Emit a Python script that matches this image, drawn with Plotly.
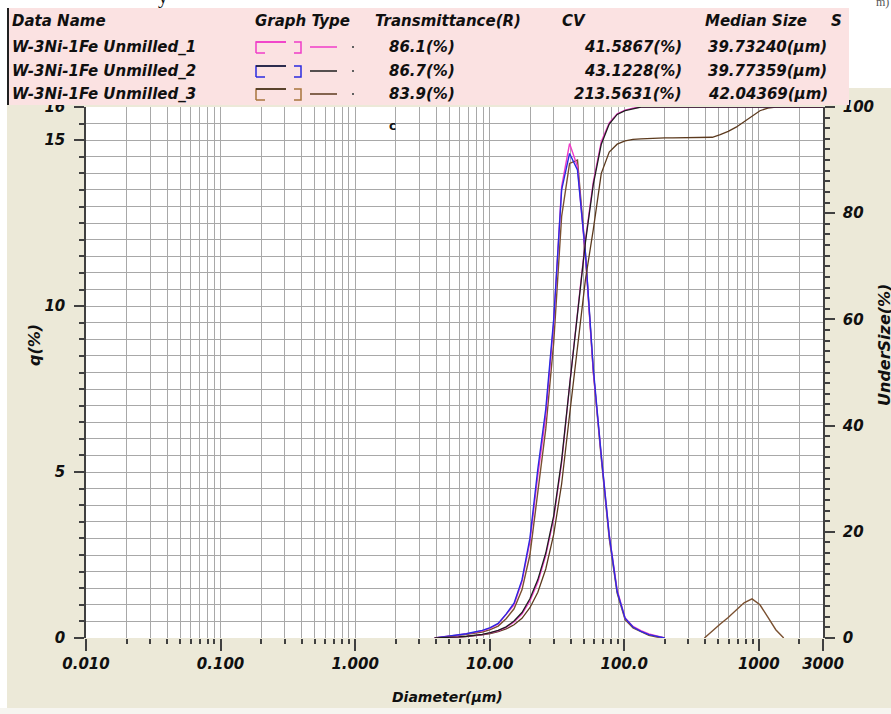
import math
import plotly.graph_objects as go

W, H = 891, 714

# Particle-size channels (um) of the laser diffraction analyser
size_um = [3.905, 4.472, 5.122, 5.867, 6.720, 7.697, 8.816, 10.097, 11.565, 13.246,
           15.172, 17.377, 19.904, 22.797, 26.111, 29.907, 34.255, 39.234, 44.938, 51.471,
           58.953, 67.523, 77.339, 88.583, 101.46, 116.21, 133.10, 152.45, 174.62, 200.00,
           229.08, 262.38, 300.53, 344.22, 394.25, 451.56, 517.20, 592.39, 678.50, 777.14,
           890.11, 1019.5, 1167.7, 1337.5, 1531.9, 1754.6, 2009.6, 2301.8, 2636.4, 3000.0]

N = None
# Frequency q (%) per channel
q_1 = [0, 0.02, 0.06, 0.09, 0.12, 0.17, 0.22, 0.30, 0.42, 0.70,
       1.0, 1.7, 2.9, 4.9, 6.7, 9.5, 13.6, 14.9, 14.2, 11.5,
       8.0, 5.5, 3.1, 1.45, 0.60, 0.35, 0.22, 0.12, 0.05, 0,
       N, N, N, N, N, N, N, N, N, N, N, N, N, N, N, N, N, N, N, N]
q_2 = [0, 0.03, 0.07, 0.10, 0.13, 0.18, 0.23, 0.31, 0.44, 0.72,
       1.05, 1.75, 3.0, 5.1, 6.9, 9.6, 13.5, 14.6, 14.1, 11.6,
       8.1, 5.5, 3.1, 1.40, 0.60, 0.33, 0.20, 0.10, 0.04, 0,
       N, N, N, N, N, N, N, N, N, N, N, N, N, N, N, N, N, N, N, N]
q_3 = [0, 0.02, 0.05, 0.08, 0.11, 0.14, 0.18, 0.25, 0.36, 0.58,
       0.88, 1.45, 2.5, 4.4, 6.3, 8.9, 12.7, 14.3, 14.4, 11.6,
       8.0, 5.4, 3.0, 1.35, 0.55, 0.30, 0.18, 0.08, 0.03, 0,
       N, N, N, N, 0, 0.22, 0.42, 0.62, 0.85, 1.06,
       1.18, 1.00, 0.63, 0.25, 0, N, N, N, N, N]

# Cumulative undersize (%)
under_1 = [0, 0.02, 0.10, 0.20, 0.30, 0.45, 0.65, 0.95, 1.35, 2.0,
           3.0, 4.5, 7.0, 10.5, 15.5, 22.5, 33.0, 47.5, 61.0, 75.0,
           86.0, 93.5, 97.0, 98.7, 99.4, 99.8, 100, 100, 100, 100,
           100, 100, 100, 100, 100, 100, 100, 100, 100, 100,
           100, 100, 100, 100, 100, 100, 100, 100, 100, 100]
under_2 = [0, 0.03, 0.12, 0.22, 0.33, 0.50, 0.70, 1.0, 1.45, 2.1,
           3.2, 4.8, 7.4, 11.0, 16.0, 23.0, 33.5, 47.5, 60.5, 74.5,
           85.5, 93.0, 96.8, 98.6, 99.3, 99.7, 100, 100, 100, 100,
           100, 100, 100, 100, 100, 100, 100, 100, 100, 100,
           100, 100, 100, 100, 100, 100, 100, 100, 100, 100]
under_3 = [0, 0.02, 0.08, 0.15, 0.25, 0.40, 0.60, 0.85, 1.2, 1.7,
           2.5, 3.7, 5.7, 8.6, 13.0, 19.5, 29.0, 42.0, 55.0, 67.5,
           77.0, 87.5, 91.5, 93.0, 93.6, 93.9, 94.0, 94.1, 94.2, 94.2,
           94.2, 94.2, 94.2, 94.2, 94.2, 94.3, 94.8, 95.4, 96.2, 97.2,
           98.3, 99.3, 99.8, 100, 100, 100, 100, 100, 100, 100]

sample_names = ["W-3Ni-1Fe Unmilled_1", "W-3Ni-1Fe Unmilled_2", "W-3Ni-1Fe Unmilled_3"]
transmittance = ["86.1(%)", "86.7(%)", "83.9(%)"]
cv_values = ["41.5867(%)", "43.1228(%)", "213.5631(%)"]
median_sizes = ["39.73240(µm)", "39.77359(µm)", "42.04369(µm)"]

x_tick_vals = [0.01, 0.1, 1, 10, 100, 1000, 3000]
x_tick_text = ["0.010", "0.100", "1.000", "10.00", "100.0", "1000", "3000"]

hist_colors = ["#F03CC8", "#2A2AE0", "#7A5030"]
glyph_colors = ["#F03CC8", "#2A2AE0", "#A8743C"]
cum_colors = ["#F03CC8", "#1E1E1E", "#5C3A1E"]
bracket_top = ["#F03CC8", "#1E1E1E", "#3A2A1A"]

BEIGE = "#ECE9D8"
PINK = "#FBE2E2"
GRID = "#A8A8A8"
AXIS = "#404040"
FONT = "DejaVu Sans"


def fx(p):
    return p / W


def fy(p):
    return 1 - p / H


plot_l, plot_r, plot_t, plot_b = 86, 823, 107, 638

fig = go.Figure()

for q, c in [(q_3, hist_colors[2]), (q_1, hist_colors[0]), (q_2, hist_colors[1])]:
    fig.add_trace(go.Scatter(x=size_um, y=q, mode="lines", yaxis="y",
                             line=dict(color=c, width=1.4),
                             connectgaps=False, hoverinfo="skip"))

for u, c in [(under_3, cum_colors[2]), (under_1, cum_colors[0]), (under_2, cum_colors[1])]:
    fig.add_trace(go.Scatter(x=size_um, y=u, mode="lines", yaxis="y2",
                             line=dict(color=c, width=1.3), hoverinfo="skip"))

minor_x = [m * 10 ** k for k in range(-2, 3) for m in range(2, 10)] + [2000]

tick_font = dict(family=FONT, size=15, color="#101010", weight="bold", style="italic")

fig.update_layout(
    width=W, height=H,
    margin=dict(l=0, r=0, t=0, b=0),
    paper_bgcolor=BEIGE, plot_bgcolor="white",
    showlegend=False,
    xaxis=dict(
        type="log", range=[-2, math.log10(3000)],
        domain=[fx(plot_l), fx(plot_r)], anchor="y",
        tickmode="array", tickvals=x_tick_vals, ticktext=x_tick_text,
        ticks="outside", ticklen=12, tickwidth=1.5, tickcolor=AXIS,
        showgrid=True, gridcolor=GRID, gridwidth=1,
        showline=False, zeroline=False, automargin=False,
        tickfont=tick_font,
        minor=dict(tickmode="array", tickvals=minor_x, ticks="outside", ticklen=5,
                   tickwidth=1.5, tickcolor=AXIS, showgrid=True, gridcolor=GRID, gridwidth=1),
    ),
    yaxis=dict(
        range=[0, 16], domain=[fy(plot_b), fy(plot_t)], anchor="x",
        tickmode="array", tickvals=[0, 5, 10, 15, 16], ticktext=["0", "5", "10", "15", "16"],
        ticks="outside", ticklen=10, tickwidth=1.5, tickcolor=AXIS,
        showgrid=True, gridcolor=GRID, gridwidth=1,
        showline=True, linecolor=AXIS, linewidth=1.5, zeroline=False, automargin=False,
        tickfont=tick_font, ticklabelstandoff=6,
        minor=dict(dtick=0.5, ticks="outside", ticklen=5, tickwidth=1.5, tickcolor=AXIS,
                   showgrid=True, gridcolor=GRID, gridwidth=1),
    ),
    yaxis2=dict(
        range=[0, 100], overlaying="y", side="right", anchor="x",
        tickmode="array", tickvals=[0, 20, 40, 60, 80, 100],
        ticks="outside", ticklen=10, tickwidth=1.5, tickcolor=AXIS,
        showgrid=False, showline=True, linecolor=AXIS, linewidth=1.5,
        zeroline=False, automargin=False, tickfont=tick_font, ticklabelstandoff=5,
        minor=dict(dtick=2, ticks="outside", ticklen=5, tickwidth=1.5, tickcolor=AXIS),
    ),
)

shapes = [
    # white margins around the beige panel
    dict(type="rect", xref="paper", yref="paper", x0=0, x1=fx(7), y0=0, y1=1,
         fillcolor="white", line_width=0, layer="below"),
    dict(type="rect", xref="paper", yref="paper", x0=0, x1=1, y0=fy(8), y1=1,
         fillcolor="white", line_width=0, layer="below"),
    dict(type="rect", xref="paper", yref="paper", x0=fx(849), x1=1, y0=fy(88), y1=1,
         fillcolor="white", line_width=0, layer="below"),
    dict(type="rect", xref="paper", yref="paper", x0=0, x1=1, y0=0, y1=fy(708),
         fillcolor="#F6F5F0", line_width=0, layer="below"),
    # header table
    dict(type="rect", xref="paper", yref="paper", x0=fx(8), x1=fx(849), y0=fy(105), y1=fy(8),
         fillcolor=PINK, line_width=0, layer="above"),
    dict(type="line", xref="paper", yref="paper", x0=fx(8), x1=fx(8), y0=fy(105), y1=fy(8),
         line=dict(color="#202020", width=2), layer="above"),
]

annotations = []


def text(x, y, s, anchor="left", size=15, angle=0, color="#101010", family=FONT,
         bold=True, italic=True):
    annotations.append(dict(
        x=fx(x), y=fy(y), xref="paper", yref="paper", text=s, showarrow=False,
        xanchor=anchor, yanchor="middle", textangle=angle,
        font=dict(family=family, size=size, color=color,
                  weight="bold" if bold else "normal",
                  style="italic" if italic else "normal"),
    ))


header_y = 21
row_y = [47, 71, 94]
text(10, header_y, "Data Name")
text(253, header_y, "Graph Type")
text(373, header_y, "Transmittance(R)")
text(560, header_y, "CV")
text(703, header_y, "Median Size")
text(829, header_y, "S")

for i in range(3):
    y = row_y[i]
    text(10, y, sample_names[i])
    text(387, y, transmittance[i])
    text(684, y, cv_values[i], anchor="right")
    text(706, y, median_sizes[i])
    y0, y1 = fy(y - 5), fy(y + 6)
    # histogram glyph
    shapes.append(dict(type="path", xref="paper", yref="paper", layer="above",
                       path=f"M {fx(256)} {y1} L {fx(256)} {y0} L {fx(286)} {y0}",
                       line=dict(color=glyph_colors[i], width=1.5)))
    shapes.append(dict(type="line", xref="paper", yref="paper", layer="above",
                       x0=fx(256), x1=fx(286), y0=y0, y1=y0,
                       line=dict(color=bracket_top[i], width=1.5)))
    shapes.append(dict(type="line", xref="paper", yref="paper", layer="above",
                       x0=fx(256), x1=fx(265), y0=y1, y1=y1,
                       line=dict(color=glyph_colors[i], width=1.5)))
    shapes.append(dict(type="path", xref="paper", yref="paper", layer="above",
                       path=f"M {fx(294)} {y0} L {fx(301)} {y0} L {fx(301)} {y1} L {fx(294)} {y1}",
                       line=dict(color=glyph_colors[i], width=1.5)))
    # cumulative line glyph
    shapes.append(dict(type="line", xref="paper", yref="paper", layer="above",
                       x0=fx(310), x1=fx(337), y0=fy(y), y1=fy(y),
                       line=dict(color=cum_colors[i], width=1.5)))
    shapes.append(dict(type="rect", xref="paper", yref="paper", layer="above",
                       x0=fx(352), x1=fx(354), y0=fy(y - 1), y1=fy(y + 1),
                       fillcolor="#606060", line_width=0))

# axis titles
text(34, 345, "q(%)", anchor="center", size=16, angle=-90)
text(884, 345, "UnderSize(%)", anchor="center", size=16, angle=-90)
text(447, 697, "Diameter(µm)", anchor="center", size=14)

# stray marks
text(392, 126, "c", anchor="center", size=12, italic=False)
text(163, -4, "y", anchor="center", size=20, family="Liberation Serif", bold=False, italic=False)
text(882, 2, "m)", anchor="center", size=12, family="Liberation Serif", bold=False,
     italic=False, color="#555555")

fig.update_layout(shapes=shapes, annotations=annotations)

fig.write_html("out.html")
